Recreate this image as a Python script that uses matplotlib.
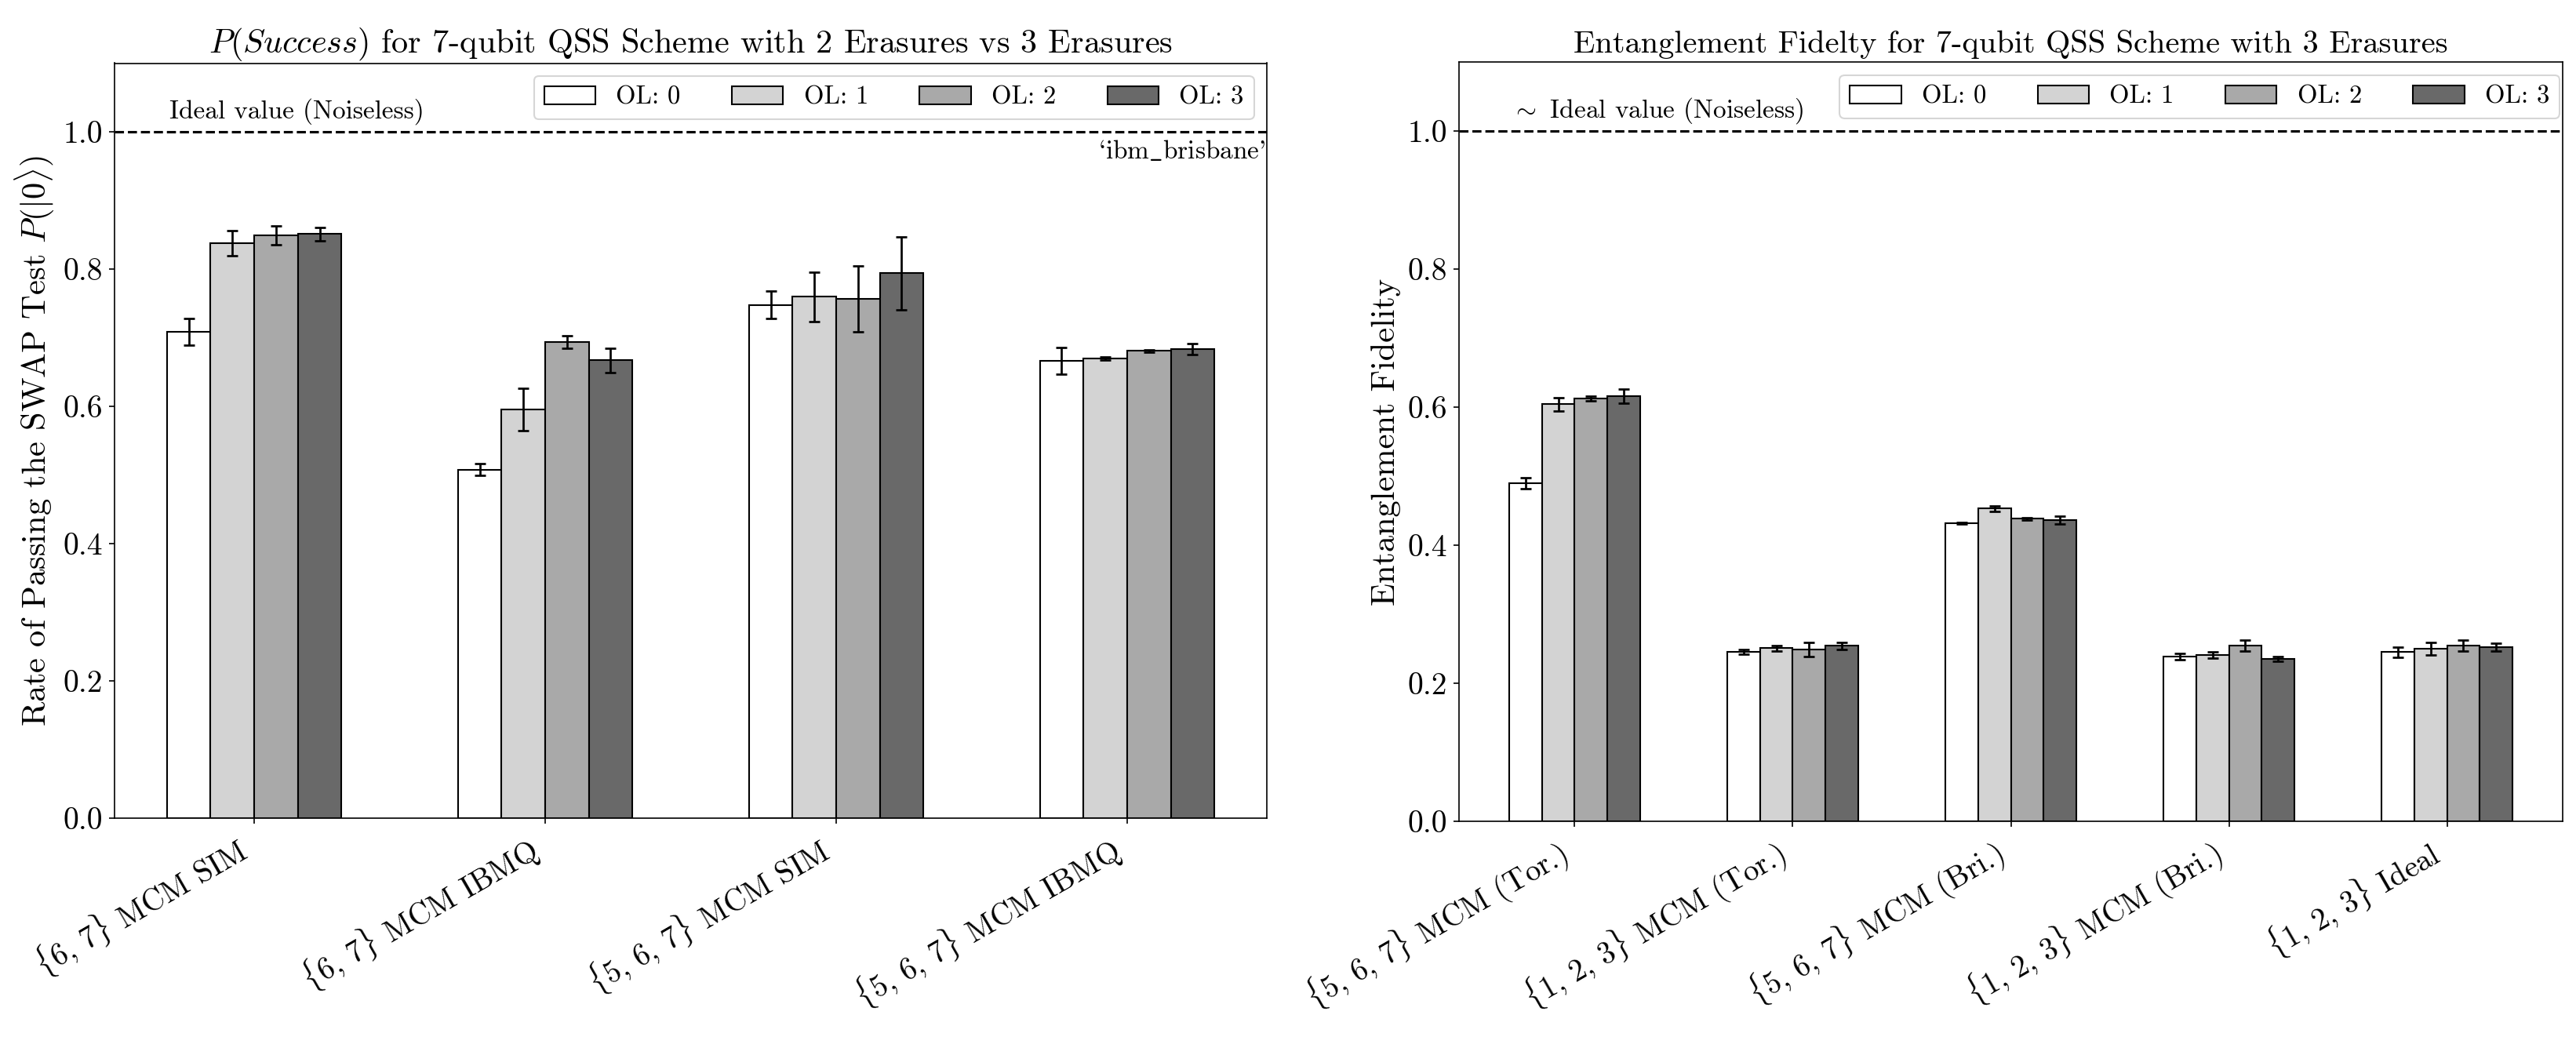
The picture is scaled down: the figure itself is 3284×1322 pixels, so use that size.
import matplotlib
matplotlib.use("Agg")
import matplotlib.pyplot as plt
import numpy as np

plt.rcParams['font.family'] = ['cmr10', 'DejaVu Serif']
plt.rcParams['mathtext.fontset'] = 'cm'
plt.rcParams['axes.formatter.use_mathtext'] = True

# ---------------- data ----------------
legend_labels = ["OL: 0", "OL: 1", "OL: 2", "OL: 3"]
bar_colors = ["white", "lightgray", "darkgray", "dimgray"]

left_categories = [r"$\{6,\,7\}$ MCM SIM", r"$\{6,\,7\}$ MCM IBMQ",
                   r"$\{5,\,6,\,7\}$ MCM SIM", r"$\{5,\,6,\,7\}$ MCM IBMQ"]
left_ol0 = [0.709, 0.508, 0.748, 0.666]
left_ol1 = [0.838, 0.596, 0.760, 0.670]
left_ol2 = [0.849, 0.694, 0.757, 0.681]
left_ol3 = [0.851, 0.667, 0.794, 0.684]
left_err0 = [0.0195, 0.0085, 0.020, 0.0195]
left_err1 = [0.018, 0.031, 0.036, 0.002]
left_err2 = [0.014, 0.009, 0.048, 0.0015]
left_err3 = [0.0095, 0.0173, 0.0535, 0.008]

right_categories = [r"$\{5,\,6,\,7\}$ MCM (Tor.)", r"$\{1,\,2,\,3\}$ MCM (Tor.)",
                    r"$\{5,\,6,\,7\}$ MCM (Bri.)", r"$\{1,\,2,\,3\}$ MCM (Bri.)",
                    r"$\{1,\,2,\,3\}$ Ideal"]
right_ol0 = [0.490, 0.2455, 0.432, 0.239, 0.2455]
right_ol1 = [0.6045, 0.251, 0.4534, 0.2413, 0.2503]
right_ol2 = [0.6128, 0.249, 0.4386, 0.2549, 0.2552]
right_ol3 = [0.6162, 0.2545, 0.437, 0.2352, 0.2526]
right_err0 = [0.0076, 0.0034, 0.001, 0.0047, 0.0074]
right_err1 = [0.0095, 0.004, 0.004, 0.0045, 0.009]
right_err2 = [0.003, 0.0102, 0.0015, 0.0074, 0.0078]
right_err3 = [0.010, 0.005, 0.0055, 0.0036, 0.0055]

ideal_value = 1.0

# ---------------- figure ----------------
W, H = 3284, 1322
DPI = 150
fig = plt.figure(figsize=(W / DPI, H / DPI), dpi=DPI)

def px_axes(x0, x1, y0, y1):
    return fig.add_axes([x0 / W, 1 - y1 / H, (x1 - x0) / W, (y1 - y0) / H])

axL = px_axes(146, 1615, 80.5, 1043.3)
axR = px_axes(1860, 3267, 79.3, 1047.3)

XTICK_FS = 18.7
YTICK_FS = 19
BAR_W = 0.15

def draw(ax, cats, vals, errs):
    x = np.arange(len(cats))
    for i, (v, e) in enumerate(zip(vals, errs)):
        ax.bar(x + (i - 1.5) * BAR_W, v, BAR_W, yerr=e, color=bar_colors[i],
               edgecolor="black", linewidth=1.0, label=legend_labels[i],
               error_kw=dict(elinewidth=1.3, capsize=3.2, capthick=1.3, ecolor="black"))
    ax.axhline(ideal_value, color="black", linestyle="--", linewidth=1.5)
    ax.set_ylim(0, 1.1)
    ax.set_xticks(x)
    ax.set_xticklabels(cats, rotation=30, ha="right", fontsize=XTICK_FS)
    ax.set_yticks([0.0, 0.2, 0.4, 0.6, 0.8, 1.0])
    ax.set_yticklabels(["0.0", "0.2", "0.4", "0.6", "0.8", "1.0"], fontsize=YTICK_FS)

draw(axL, left_categories, [left_ol0, left_ol1, left_ol2, left_ol3],
     [left_err0, left_err1, left_err2, left_err3])
draw(axR, right_categories, [right_ol0, right_ol1, right_ol2, right_ol3],
     [right_err0, right_err1, right_err2, right_err3])

axL.set_title(r"$P(Success)$ for 7-qubit QSS Scheme with 2 Erasures vs 3 Erasures", fontsize=20.3)
axR.set_title("Entanglement Fidelty for 7-qubit QSS Scheme with 3 Erasures", fontsize=19.4)
axL.set_ylabel(r"Rate of Passing the SWAP Test $P(|0\rangle)$", fontsize=20.4)
axR.set_ylabel("Entanglement Fidelity", fontsize=20.4)

axL.text(-0.29, 1.02, "Ideal value (Noiseless)", fontsize=16, va="baseline", ha="left")
axL.text(0.999, 0.99, "`ibm" + r"$\_$" + "brisbane'", fontsize=16, va="top", ha="right",
         transform=axL.get_yaxis_transform())
axR.text(-0.29, 1.02, r"$\sim$ Ideal value (Noiseless)", fontsize=16, va="baseline", ha="left")

axL.legend(ncol=4, loc="upper right", fontsize=15.7)
axR.legend(ncol=4, loc="upper right", bbox_to_anchor=(1.009, 1.0), fontsize=15.7)

fig.savefig("out.png", dpi=DPI)
